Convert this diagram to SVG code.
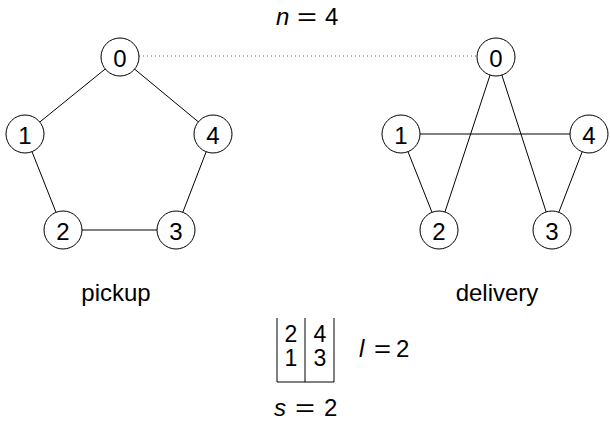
<svg xmlns="http://www.w3.org/2000/svg" width="610" height="425" viewBox="0 0 610 425">
  <style>
    text { font-family: "Liberation Sans", Arial, sans-serif; font-size: 24px; fill: #000; }
    .lbl { text-anchor: middle; }
    .num { text-anchor: middle; dominant-baseline: central; font-size: 24px; }
    .cell { text-anchor: middle; font-size: 23px; }
    .node circle { fill: #fff; stroke: #000; stroke-width: 1; }
    .edge { stroke: #000; stroke-width: 1; fill: none; }
    .dot { stroke: #666; stroke-width: 1; stroke-dasharray: 1 3; }
    .it { font-style: italic; }
  </style>

  <!-- header: n = 4 -->
  <g id="header">
    <text class="it" x="276" y="25">n</text>
    <text x="297" y="25" textLength="20" lengthAdjust="spacingAndGlyphs">=</text>
    <text x="325" y="25">4</text>
  </g>

  <!-- connectors -->
  <g id="connectors">
    <line class="dot" x1="139" y1="56" x2="477" y2="56"/>
    <!-- pickup cycle -->
    <line class="edge" x1="120" y1="57" x2="25" y2="134"/>
    <line class="edge" x1="120" y1="57" x2="213" y2="134"/>
    <line class="edge" x1="25" y1="134" x2="63" y2="230"/>
    <line class="edge" x1="63" y1="230" x2="176" y2="230"/>
    <line class="edge" x1="176" y1="230" x2="213" y2="134"/>
    <!-- delivery cycle -->
    <line class="edge" x1="496" y1="57" x2="439" y2="230"/>
    <line class="edge" x1="496" y1="57" x2="552" y2="230"/>
    <line class="edge" x1="401" y1="134" x2="589" y2="134"/>
    <line class="edge" x1="401" y1="134" x2="439" y2="230"/>
    <line class="edge" x1="589" y1="134" x2="552" y2="230"/>
  </g>

  <!-- pickup nodes -->
  <g id="p0" class="node"><circle cx="120" cy="57" r="19"/><text class="num" x="120" y="58">0</text></g>
  <g id="p1" class="node"><circle cx="25" cy="134" r="19"/><text class="num" x="25" y="135">1</text></g>
  <g id="p2" class="node"><circle cx="63" cy="230" r="19"/><text class="num" x="63" y="231">2</text></g>
  <g id="p3" class="node"><circle cx="176" cy="230" r="19"/><text class="num" x="176" y="231">3</text></g>
  <g id="p4" class="node"><circle cx="213" cy="134" r="19"/><text class="num" x="213" y="135">4</text></g>

  <!-- delivery nodes -->
  <g id="d0" class="node"><circle cx="496" cy="57" r="19"/><text class="num" x="496" y="58">0</text></g>
  <g id="d1" class="node"><circle cx="401" cy="134" r="19"/><text class="num" x="401" y="135">1</text></g>
  <g id="d2" class="node"><circle cx="439" cy="230" r="19"/><text class="num" x="439" y="231">2</text></g>
  <g id="d3" class="node"><circle cx="552" cy="230" r="19"/><text class="num" x="552" y="231">3</text></g>
  <g id="d4" class="node"><circle cx="589" cy="134" r="19"/><text class="num" x="589" y="135">4</text></g>

  <!-- graph captions -->
  <text class="lbl" x="116" y="301">pickup</text>
  <text class="lbl" x="497" y="301">delivery</text>

  <!-- stack table -->
  <g id="table">
    <path class="edge" d="M277 318 V382 H334 V318 M305 318 V382"/>
    <text class="cell" x="291" y="342">2</text>
    <text class="cell" x="320" y="342">4</text>
    <text class="cell" x="291" y="366">1</text>
    <text class="cell" x="320" y="366">3</text>
  </g>
  <g id="height">
    <text class="it" x="359" y="357">l</text>
    <text x="374" y="357" textLength="17" lengthAdjust="spacingAndGlyphs">=</text>
    <text x="396" y="357">2</text>
  </g>
  <g id="size">
    <text class="it" x="274" y="416">s</text>
    <text x="295" y="416" textLength="20" lengthAdjust="spacingAndGlyphs">=</text>
    <text x="324" y="416">2</text>
  </g>
</svg>
